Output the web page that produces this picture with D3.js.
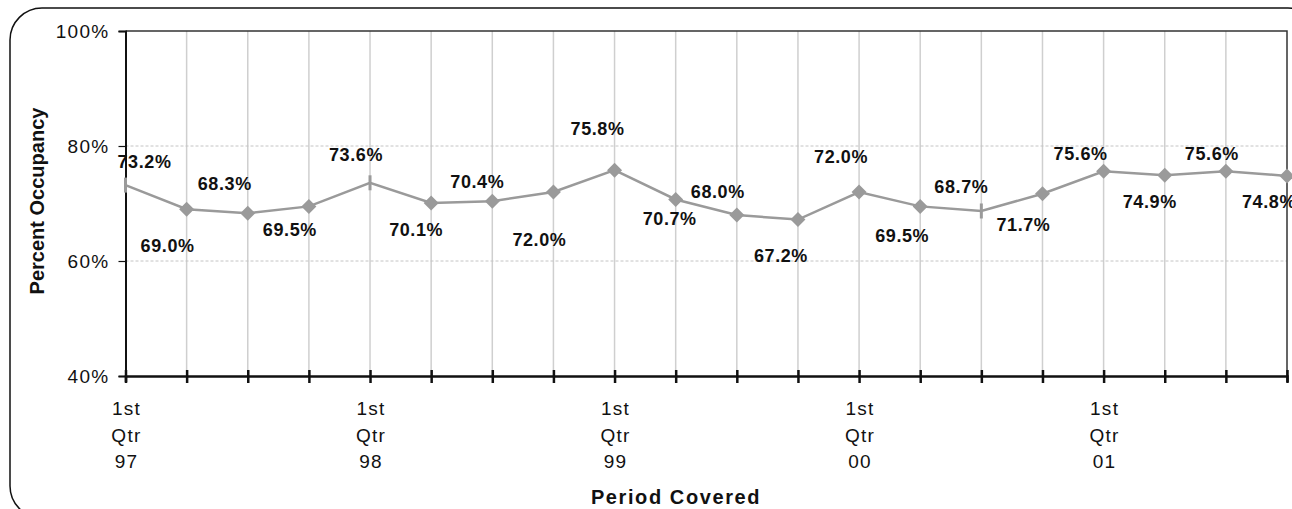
<!DOCTYPE html>
<html>
<head>
<meta charset="utf-8">
<script src="https://cdn.jsdelivr.net/npm/d3@7/dist/d3.min.js"></script>
<style>
  body { margin: 0; background: #fff; }
  svg { display: block; font-family: "Liberation Sans", Arial, sans-serif; }
  .tickLab { font-size: 19px; letter-spacing: 1.3px; fill: #111; }
  .valLab { font-size: 18px; font-weight: bold; letter-spacing: 0.6px; fill: #111; }
  .axTitle { font-size: 20px; font-weight: bold; fill: #111; }
</style>
</head>
<body>
<div id="chart"></div>
<script>
// quarters covered, 1997 Q1 .. 2001 Q4
var quarters = ["1st Qtr 97","2nd Qtr 97","3rd Qtr 97","4th Qtr 97",
                "1st Qtr 98","2nd Qtr 98","3rd Qtr 98","4th Qtr 98",
                "1st Qtr 99","2nd Qtr 99","3rd Qtr 99","4th Qtr 99",
                "1st Qtr 00","2nd Qtr 00","3rd Qtr 00","4th Qtr 00",
                "1st Qtr 01","2nd Qtr 01","3rd Qtr 01","4th Qtr 01"];
var occupancy = [73.2, 69.0, 68.3, 69.5, 73.6, 70.1, 70.4, 72.0, 75.8, 70.7,
                 68.0, 67.2, 72.0, 69.5, 68.7, 71.7, 75.6, 74.9, 75.6, 74.8];
var yTicks = [40, 60, 80, 100];

// hand placed label offsets (px) as in the original sheet
var labelDx = [19,-19,-23,-19,-14,-15,-15,-14,-17,-6,-19,-17,-18,-18,-20,-19,-23,-15,-14,-18];
var labelDy = [-23,36,-30,23,-28,27,-20,48,-41,19,-23,36,-35,29,-24,31,-18,26,-18,26];
// points whose marker shows as a thin upright bar
var barMarkers = [0, 4, 14];

var width = 1292, height = 509;
var margin = {top: 31, right: 5, bottom: 133, left: 125.5};
var plotW = width - margin.left - margin.right,
    plotH = height - margin.top - margin.bottom;

var svg = d3.select("#chart").append("svg")
    .attr("width", width)
    .attr("height", height);

// outer rounded frame
svg.append("rect")
    .attr("x", 10).attr("y", 8)
    .attr("width", 1310).attr("height", 510)
    .attr("rx", 32).attr("ry", 32)
    .attr("fill", "none")
    .attr("stroke", "#111")
    .attr("stroke-width", 1.5);

var x = d3.scalePoint()
    .domain(d3.range(quarters.length))
    .range([0, plotW]);

var y = d3.scaleLinear()
    .domain([40, 100])
    .range([plotH, 0]);

var g = svg.append("g").attr("transform", "translate(" + margin.left + "," + margin.top + ")");

// vertical gridlines
g.append("g").selectAll("line")
    .data(d3.range(1, quarters.length - 1))
    .enter().append("line")
    .attr("x1", function(d){ return x(d); })
    .attr("x2", function(d){ return x(d); })
    .attr("y1", 0).attr("y2", plotH)
    .attr("stroke", "#cfcfcf")
    .attr("stroke-width", 1.5);

// horizontal dashed gridlines
g.append("g").selectAll("line")
    .data(yTicks.filter(function(t){ return t > 40 && t < 100; }))
    .enter().append("line")
    .attr("x1", 0).attr("x2", plotW)
    .attr("y1", function(d){ return y(d); })
    .attr("y2", function(d){ return y(d); })
    .attr("stroke", "#c4c4c4")
    .attr("stroke-width", 1)
    .attr("stroke-dasharray", "3,2");

// top and right border of plot
g.append("path")
    .attr("d", "M0,0H" + plotW + "V" + plotH)
    .attr("fill", "none")
    .attr("stroke", "#333")
    .attr("stroke-width", 1.5);

// y axis
var yAxis = g.append("g")
    .call(d3.axisLeft(y).tickValues(yTicks).tickSize(7).tickPadding(9)
          .tickFormat(function(d){ return d + "%"; }));
yAxis.select(".domain").attr("stroke", "#111").attr("stroke-width", 2);
yAxis.selectAll(".tick line").attr("stroke", "#111").attr("stroke-width", 1.2);
yAxis.selectAll(".tick text")
    .attr("class", "tickLab")
    .attr("font-size", null).attr("font-family", null);

// x axis
var xAxis = g.append("g")
    .attr("transform", "translate(0," + plotH + ")")
    .call(d3.axisBottom(x).tickSizeOuter(0).tickSize(6).tickFormat(""));
xAxis.select(".domain").attr("stroke", "#111").attr("stroke-width", 2.5);
xAxis.selectAll(".tick line")
    .attr("y1", -6).attr("y2", 7)
    .attr("stroke", "#111").attr("stroke-width", 2.5);

var xLab = g.append("g").selectAll("text")
    .data(d3.range(quarters.length).filter(function(i){ return quarters[i].indexOf("1st") === 0; }))
    .enter().append("text")
    .attr("class", "tickLab")
    .attr("text-anchor", "middle")
    .attr("transform", function(i){ return "translate(" + (x(i) + 1) + "," + (plotH + 39) + ")"; });
xLab.each(function(i){
    var parts = quarters[i].split(" ");
    var t = d3.select(this);
    parts.forEach(function(p, k){
        t.append("tspan").attr("x", 0).attr("y", k * 26.5).text(p);
    });
});

// line
var line = d3.line()
    .x(function(d, i){ return x(i); })
    .y(function(d){ return y(d); });

g.append("path")
    .datum(occupancy)
    .attr("d", line)
    .attr("fill", "none")
    .attr("stroke", "#9a9a9a")
    .attr("stroke-width", 2.5);

// markers
g.append("g").selectAll("path")
    .data(occupancy)
    .enter().append("path")
    .attr("transform", function(d, i){ return "translate(" + x(i) + "," + y(d) + ")"; })
    .attr("fill", "#9a9a9a")
    .attr("d", function(d, i){
        if (barMarkers.indexOf(i) >= 0) return "M-1.5,-7.5H1.5V7.5H-1.5Z";
        return "M0,-7.5L7.5,0L0,7.5L-7.5,0Z";
    });

// value labels
g.append("g").selectAll("text")
    .data(occupancy)
    .enter().append("text")
    .attr("class", "valLab")
    .attr("text-anchor", "middle")
    .attr("x", function(d, i){ return x(i) + labelDx[i]; })
    .attr("y", function(d, i){ return y(d) + labelDy[i]; })
    .attr("dy", "0.35em")
    .text(function(d){ return d.toFixed(1) + "%"; });

// axis titles
svg.append("text")
    .attr("class", "axTitle")
    .attr("text-anchor", "middle")
    .attr("letter-spacing", "1.6px")
    .attr("x", 676)
    .attr("y", 504)
    .text("Period Covered");

svg.append("text")
    .attr("class", "axTitle")
    .attr("text-anchor", "middle")
    .attr("transform", "translate(44,201) rotate(-90)")
    .text("Percent Occupancy");
</script>
</body>
</html>
